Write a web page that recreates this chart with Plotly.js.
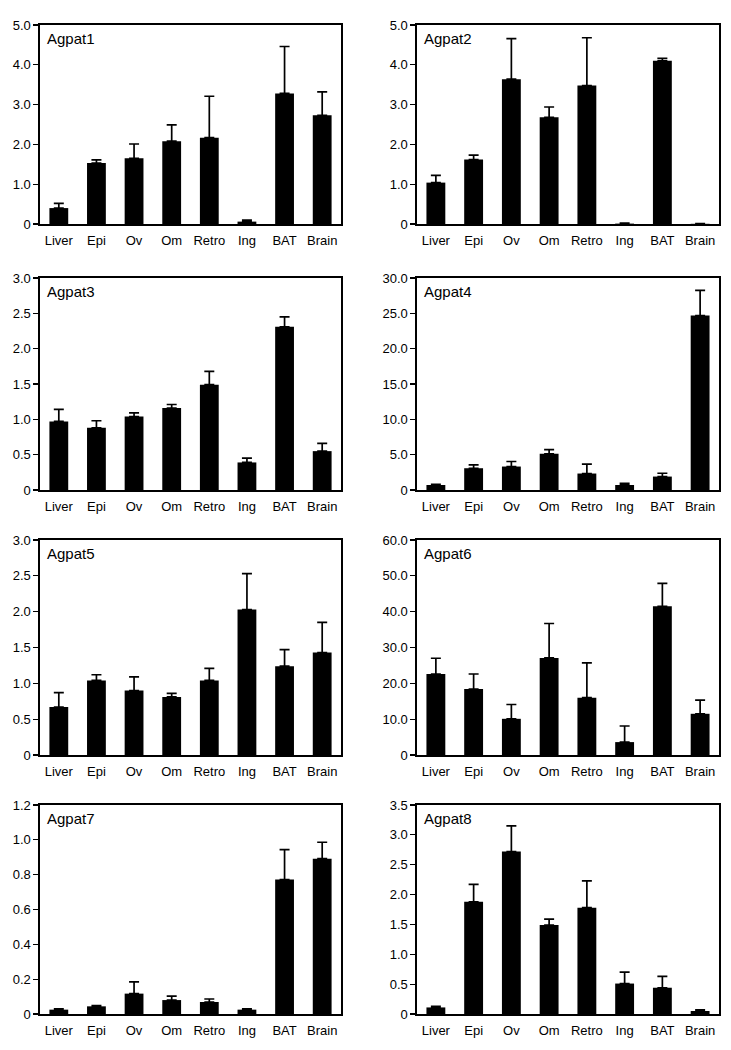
<!DOCTYPE html>
<html>
<head>
<meta charset="utf-8">
<script src="https://cdn.plot.ly/plotly-3.0.1.min.js"></script>
<style>html,body{margin:0;padding:0;background:#fff;}#chart{width:731px;height:1050px;}</style>
</head>
<body>
<div id="chart"></div>
<script>
// ---- data ----
const tissues = ["Liver", "Epi", "Ov", "Om", "Retro", "Ing", "BAT", "Brain"];
const genes = ["Agpat1", "Agpat2", "Agpat3", "Agpat4", "Agpat5", "Agpat6", "Agpat7", "Agpat8"];

const agpat1 = [0.40, 1.53, 1.65, 2.08, 2.17, 0.06, 3.28, 2.73];
const agpat1Err = [0.12, 0.08, 0.36, 0.41, 1.04, 0.04, 1.18, 0.59];
const agpat2 = [1.04, 1.62, 3.64, 2.68, 3.48, 0.01, 4.10, 0.005];
const agpat2Err = [0.18, 0.11, 1.02, 0.26, 1.20, 0.01, 0.06, 0.005];
const agpat3 = [0.97, 0.88, 1.04, 1.16, 1.49, 0.39, 2.31, 0.55];
const agpat3Err = [0.17, 0.10, 0.05, 0.05, 0.19, 0.06, 0.14, 0.11];
const agpat4 = [0.71, 3.08, 3.32, 5.13, 2.33, 0.71, 1.90, 24.68];
const agpat4Err = [0.09, 0.48, 0.71, 0.57, 1.32, 0.24, 0.47, 3.56];
const agpat5 = [0.67, 1.04, 0.90, 0.81, 1.04, 2.03, 1.24, 1.43];
const agpat5Err = [0.20, 0.08, 0.19, 0.05, 0.17, 0.50, 0.23, 0.42];
const agpat6 = [22.6, 18.4, 10.1, 27.1, 16.0, 3.6, 41.5, 11.5];
const agpat6Err = [4.4, 4.2, 4.0, 9.6, 9.7, 4.5, 6.4, 3.8];
const agpat7 = [0.025, 0.044, 0.117, 0.080, 0.069, 0.025, 0.772, 0.892];
const agpat7Err = [0.004, 0.004, 0.068, 0.023, 0.017, 0.004, 0.172, 0.094];
const agpat8 = [0.11, 1.88, 2.72, 1.49, 1.78, 0.51, 0.44, 0.05];
const agpat8Err = [0.02, 0.29, 0.43, 0.10, 0.45, 0.19, 0.19, 0.02];

// y-axis tick values per panel
const ticks1 = [0, 1, 2, 3, 4, 5];
const ticks2 = [0, 1, 2, 3, 4, 5];
const ticks3 = [0, 0.5, 1, 1.5, 2, 2.5, 3];
const ticks4 = [0, 5, 10, 15, 20, 25, 30];
const ticks5 = [0, 0.5, 1, 1.5, 2, 2.5, 3];
const ticks6 = [0, 10, 20, 30, 40, 50, 60];
const ticks7 = [0, 0.2, 0.4, 0.6, 0.8, 1.0, 1.2];
const ticks8 = [0, 0.5, 1, 1.5, 2, 2.5, 3, 3.5];

const values = [agpat1, agpat2, agpat3, agpat4, agpat5, agpat6, agpat7, agpat8];
const errors = [agpat1Err, agpat2Err, agpat3Err, agpat4Err, agpat5Err, agpat6Err, agpat7Err, agpat8Err];
const ticks = [ticks1, ticks2, ticks3, ticks4, ticks5, ticks6, ticks7, ticks8];

// ---- layout geometry (pixels) ----
const W = 731, H = 1050;
const cols = [[40, 341], [417, 719]];
const rows = [[25, 224], [278, 490], [540, 755], [805, 1014]];
const FONT = "Liberation Sans, Arial, Helvetica, sans-serif";

const data = [];
const layout = {
  width: W, height: H,
  margin: {l: 0, r: 0, t: 0, b: 0},
  paper_bgcolor: "#fff", plot_bgcolor: "#fff",
  showlegend: false,
  bargap: 0.5,
  font: {family: FONT, size: 13, color: "#000"},
  annotations: []
};

for (let i = 0; i < 8; i++) {
  const n = i + 1;
  const sfx = n === 1 ? "" : String(n);
  const col = cols[i % 2], row = rows[Math.floor(i / 2)];
  const t = ticks[i];
  data.push({
    type: "bar",
    x: tissues,
    y: values[i],
    xaxis: "x" + sfx,
    yaxis: "y" + sfx,
    marker: {color: "#000", line: {width: 0}},
    error_y: {type: "data", symmetric: false, array: errors[i], arrayminus: errors[i].map(() => 0),
              color: "#000", thickness: 1.7, width: 5}
  });
  layout["xaxis" + sfx] = {
    domain: [col[0] / W, col[1] / W],
    anchor: "y" + sfx,
    type: "category",
    showline: true, mirror: true, linecolor: "#000", linewidth: 1.6,
    ticks: "", showgrid: false, zeroline: false,
    ticklabelstandoff: 4,
    tickfont: {family: FONT, size: 13, color: "#000"},
    fixedrange: true
  };
  layout["yaxis" + sfx] = {
    domain: [1 - row[1] / H, 1 - row[0] / H],
    anchor: "x" + sfx,
    range: [0, t[t.length - 1]],
    tickvals: t,
    ticktext: t.map(v => v === 0 ? "0" : v.toFixed(1)),
    ticks: "outside", ticklen: 5, tickwidth: 1.2, tickcolor: "#000",
    showline: true, mirror: true, linecolor: "#000", linewidth: 1.6,
    showgrid: false, zeroline: false,
    tickfont: {family: FONT, size: 13, color: "#000"},
    fixedrange: true
  };
  layout.annotations.push({
    text: genes[i],
    xref: "x" + sfx + " domain", yref: "y" + sfx + " domain",
    x: 0, y: 1, xanchor: "left", yanchor: "top",
    xshift: 5, yshift: -3,
    showarrow: false,
    font: {family: FONT, size: 15, color: "#000"}
  });
}

Plotly.newPlot("chart", data, layout, {displayModeBar: false, staticPlot: true});
</script>
</body>
</html>
